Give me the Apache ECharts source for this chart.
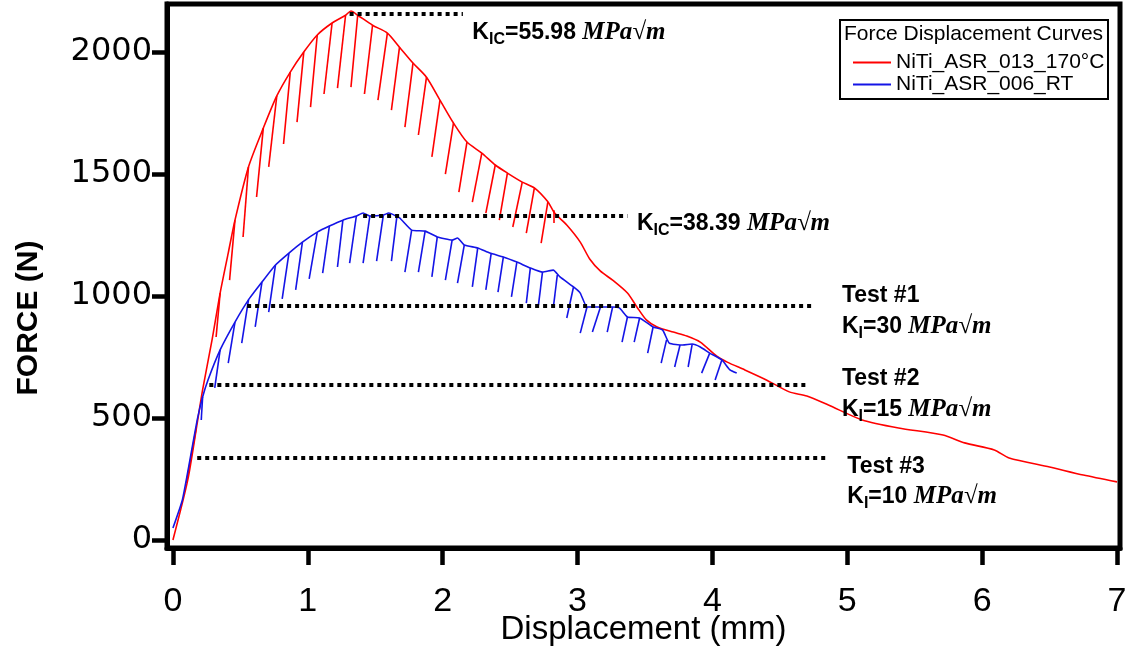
<!DOCTYPE html>
<html>
<head>
<meta charset="utf-8">
<script src="https://cdn.jsdelivr.net/npm/echarts@6/dist/echarts.min.js"></script>
<style>
html,body{margin:0;padding:0;background:#fff;}
#main{width:1130px;height:649px;}
</style>
</head>
<body>
<div id="main"></div>
<script>
// tick labels
var xTicks = [0, 1, 2, 3, 4, 5, 6, 7];
var yTicks = [0, 500, 1000, 1500, 2000];

// envelope curves [displacement mm, force N]
var redCurve = [[0.00,0],[0.11,246],[0.18,479],[0.22,615],[0.29,820],[0.35,1012],[0.41,1176],[0.46,1311],[0.56,1529],[0.67,1688],[0.77,1820],[0.87,1918],[0.97,2000],[1.07,2070],[1.18,2119],[1.28,2151],[1.32,2168],[1.37,2151],[1.48,2110],[1.59,2078],[1.68,2020],[1.78,1955],[1.88,1897],[1.98,1803],[2.08,1709],[2.18,1631],[2.29,1586],[2.39,1537],[2.48,1504],[2.59,1467],[2.68,1443],[2.78,1386],[2.83,1340],[2.92,1291],[3.02,1221],[3.09,1152],[3.17,1102],[3.26,1065],[3.37,1012],[3.44,955],[3.51,902],[3.59,873],[3.71,852],[3.81,836],[3.91,811],[4.03,754],[4.11,729],[4.24,697],[4.40,656],[4.57,607],[4.70,590],[4.86,553],[5.11,492],[5.38,459],[5.71,430],[5.87,398],[6.09,369],[6.20,336],[6.50,299],[6.75,266],[7.00,238]];
var blueCurve = [[0.00,49],[0.07,164],[0.13,340],[0.18,492],[0.22,586],[0.26,656],[0.35,779],[0.46,893],[0.56,984],[0.66,1057],[0.76,1127],[0.86,1176],[0.96,1221],[1.07,1262],[1.16,1287],[1.26,1311],[1.36,1328],[1.41,1340],[1.46,1328],[1.56,1332],[1.60,1340],[1.68,1320],[1.77,1270],[1.87,1266],[1.96,1242],[2.07,1229],[2.11,1238],[2.16,1209],[2.26,1197],[2.35,1176],[2.45,1160],[2.55,1139],[2.65,1115],[2.74,1098],[2.82,1106],[2.87,1078],[2.97,1037],[3.02,1012],[3.07,955],[3.17,955],[3.26,955],[3.31,951],[3.37,914],[3.46,910],[3.56,873],[3.63,861],[3.68,807],[3.78,799],[3.85,803],[3.91,791],[3.98,766],[4.07,738],[4.13,697],[4.18,684]];

// unloading segments [xTop, yTop, xBottom, yBottom]
var redSpikes = [[0.17,451,0.10,234],[0.35,1012,0.32,832],[0.46,1311,0.42,1065],[0.56,1529,0.52,1242],[0.67,1688,0.62,1406],[0.77,1820,0.71,1529],[0.87,1918,0.82,1623],[0.97,2000,0.92,1713],[1.07,2070,1.02,1774],[1.18,2119,1.12,1828],[1.28,2151,1.22,1852],[1.37,2151,1.32,1856],[1.48,2110,1.42,1828],[1.59,2078,1.52,1803],[1.68,2020,1.62,1762],[1.78,1955,1.72,1692],[1.88,1897,1.82,1660],[1.98,1803,1.92,1570],[2.08,1709,2.02,1500],[2.18,1631,2.12,1426],[2.29,1586,2.22,1385],[2.39,1537,2.32,1340],[2.48,1504,2.42,1311],[2.59,1467,2.52,1283],[2.68,1443,2.62,1258],[2.78,1386,2.73,1217],[2.82,1352,2.82,1299]];
var blueSpikes = [[0.22,586,0.21,492],[0.35,779,0.31,623],[0.46,893,0.41,725],[0.56,984,0.51,807],[0.66,1057,0.61,873],[0.76,1127,0.71,934],[0.86,1176,0.81,988],[0.96,1221,0.91,1025],[1.07,1262,1.01,1070],[1.16,1287,1.11,1094],[1.26,1311,1.22,1119],[1.36,1328,1.31,1135],[1.46,1328,1.41,1135],[1.56,1332,1.51,1143],[1.66,1324,1.62,1143],[1.77,1270,1.72,1098],[1.87,1266,1.82,1098],[1.96,1242,1.92,1078],[2.07,1229,2.02,1065],[2.16,1209,2.11,1053],[2.26,1197,2.22,1037],[2.36,1176,2.32,1025],[2.45,1160,2.41,1016],[2.55,1139,2.51,996],[2.65,1115,2.62,971],[2.74,1098,2.71,963],[2.85,1086,2.82,951],[2.97,1037,2.92,910],[3.07,955,3.02,848],[3.17,955,3.11,852],[3.26,955,3.22,852],[3.37,914,3.33,811],[3.46,910,3.42,811],[3.56,873,3.52,766],[3.66,820,3.62,725],[3.76,799,3.72,709],[3.85,803,3.82,709],[3.98,766,3.92,684],[4.07,738,4.02,656]];

// dotted reference levels
var refLevel = [2156, 1330, 959, 635, 336];
var refStart = [1.31, 1.41, 0.55, 0.27, 0.18];
var refEnd = [2.15, 3.37, 4.76, 4.69, 4.86];

// annotation texts, anchored at left-middle in data coordinates
var annotText = ['K_IC=55.98', 'K_IC=38.39', 'Test #1', 'K_I=30', 'Test #2', 'K_I=15', 'Test #3', 'K_I=10'];
var annotX = [2.22, 3.44, 4.96, 4.96, 4.96, 4.96, 5.00, 5.00];
var annotY = [2078, 1295, 1000, 873, 660, 533, 299, 176];

var redName = 'NiTi_ASR_013_170°C';
var blueName = 'NiTi_ASR_006_RT';
var redColor = '#ff0000';
var blueColor = '#1414e6';

function spikeLines(list){
    return list.map(function(s){ return {coords: [[s[0], s[1]], [s[2], s[3]]]}; });
}
var refLines = refLevel.map(function(v, i){
    return {coords: [[refStart[i], v], [refEnd[i], v]]};
});

var chart = echarts.init(document.getElementById('main'));

var option = {
    animation: false,
    backgroundColor: '#fff',
    grid: {
        left: 167, right: 10, top: 4, bottom: 101,
        show: true, borderColor: '#000', borderWidth: 5,
        containLabel: false,
        outerBoundsMode: 'none'
    },
    legend: {
        data: [redName, blueName],
        orient: 'vertical',
        left: 848, top: 47,
        icon: 'rect',
        itemWidth: 38, itemHeight: 2, itemGap: 1,
        selectedMode: false,
        z: 12,
        textStyle: {fontFamily: 'Liberation Sans', fontSize: 21, color: '#000'}
    },
    xAxis: {
        type: 'value', min: -0.044, max: 7.022,
        name: 'Displacement (mm)', nameLocation: 'middle', nameGap: 65, nameMoveOverlap: false,
        nameTextStyle: {fontFamily: 'Liberation Sans', fontSize: 33, color: '#000'},
        axisLine: {show: true, onZero: false, lineStyle: {color: '#000', width: 5}},
        axisTick: {show: true, customValues: xTicks, length: 17, lineStyle: {color: '#000', width: 4.5}},
        axisLabel: {customValues: xTicks, margin: 37, fontFamily: 'Liberation Sans Narrow, Liberation Sans', fontSize: 34, color: '#000'},
        splitLine: {show: false}
    },
    yAxis: {
        type: 'value', min: -33, max: 2197,
        name: 'FORCE (N)', nameLocation: 'middle', nameGap: 123, nameRotate: 90, nameMoveOverlap: false,
        nameTextStyle: {fontFamily: 'Liberation Sans', fontWeight: 'bold', fontSize: 30, color: '#000', padding: [0, 84, 0, 0]},
        axisLine: {show: true, onZero: false, lineStyle: {color: '#000', width: 5}},
        axisTick: {show: true, customValues: yTicks, length: 15, lineStyle: {color: '#000', width: 4.5}},
        axisLabel: {
            customValues: yTicks, margin: 15, fontFamily: 'DejaVu Sans', fontSize: 32, color: '#000',
            formatter: function(v){ return String(v); }
        },
        splitLine: {show: false}
    },
    series: [
        {name: redName, type: 'line', symbol: 'none', smooth: 0.25, data: redCurve, lineStyle: {color: redColor, width: 1.6}, itemStyle: {color: redColor}, z: 3},
        {name: redName, type: 'lines', coordinateSystem: 'cartesian2d', data: spikeLines(redSpikes), lineStyle: {color: redColor, width: 1.6, opacity: 1}, z: 3},
        {name: blueName, type: 'line', symbol: 'none', smooth: 0.15, data: blueCurve, lineStyle: {color: blueColor, width: 1.6}, itemStyle: {color: blueColor}, z: 4},
        {name: blueName, type: 'lines', coordinateSystem: 'cartesian2d', data: spikeLines(blueSpikes), lineStyle: {color: blueColor, width: 1.6, opacity: 1}, z: 4},
        {name: 'ref', type: 'lines', coordinateSystem: 'cartesian2d', data: refLines, lineStyle: {color: '#000', width: 4, type: [4, 4], cap: 'butt', opacity: 1}, z: 5}
    ]
};
chart.setOption(option);

var rich = {
    k: {fontFamily: 'Liberation Sans', fontWeight: 'bold', fontSize: 23, lineHeight: 30, color: '#000'},
    s: {fontFamily: 'Liberation Sans', fontWeight: 'bold', fontSize: 16, lineHeight: 19, verticalAlign: 'bottom', color: '#000'},
    m: {fontFamily: 'Liberation Serif', fontStyle: 'italic', fontWeight: 'bold', fontSize: 25, lineHeight: 30, color: '#000'}
};

function richLabel(t){
    if (t.indexOf('K_') !== 0) return '{k|' + t + '}';
    var sub = t.substring(2, t.indexOf('='));
    var rest = t.substring(t.indexOf('='));
    return '{k|K}{s|' + sub + '}{k|' + rest + ' }{m|MPa√m}';
}

function drawAnnotations(){
    var g = [{
        type: 'rect', left: 839, top: 19,
        shape: {width: 268, height: 79},
        style: {fill: 'rgba(0,0,0,0)', stroke: '#000', lineWidth: 2},
        z: 10
    }, {
        type: 'text', left: 844, top: 24,
        style: {text: 'Force Displacement Curves', font: '21px Liberation Sans', fill: '#000'},
        z: 11
    }];
    annotText.forEach(function(t, i){
        var p = chart.convertToPixel({gridIndex: 0}, [annotX[i], annotY[i]]);
        g.push({
            type: 'text', x: p[0], y: p[1], z: 11,
            style: {text: richLabel(t), rich: rich, align: 'left', verticalAlign: 'middle'}
        });
    });
    chart.setOption({graphic: g});
}
drawAnnotations();

window.addEventListener('resize', function(){
    chart.resize();
    drawAnnotations();
});
</script>
</body>
</html>
